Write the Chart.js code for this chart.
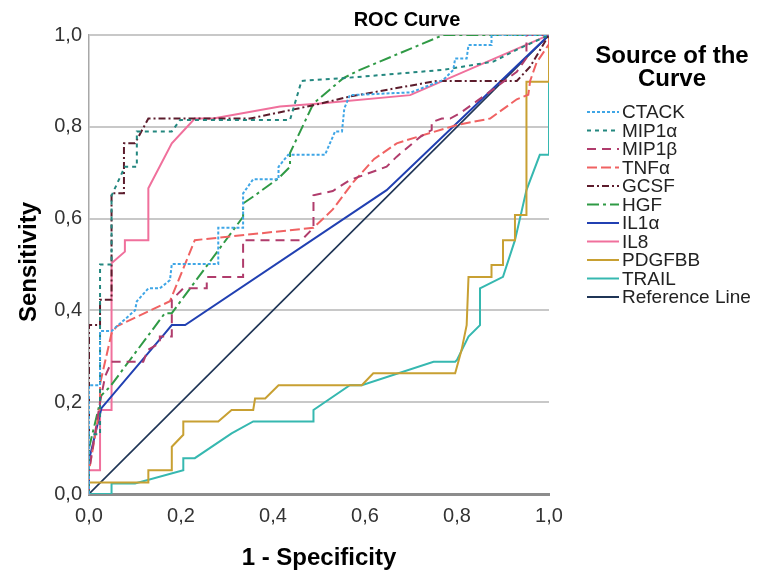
<!DOCTYPE html>
<html>
<head>
<meta charset="utf-8">
<script src="https://cdn.jsdelivr.net/npm/chart.js@4"></script>
<style>
html,body{margin:0;padding:0;background:#fff;}
#wrap{width:758px;height:572px;position:relative;}
</style>
</head>
<body>
<div id="wrap"><canvas id="c" width="758" height="572"></canvas></div>
<script>
// ---- data (1 - specificity, sensitivity) ----
const seriesNames = ["CTACK","MIP1α","MIP1β","TNFα","GCSF","HGF","IL1α","IL8","PDGFBB","TRAIL","Reference Line"];
const xTicks = [0,0.2,0.4,0.6,0.8,1.0];
const yTicks = [0,0.2,0.4,0.6,0.8,1.0];

const ctack = [[0,0],[0,0.237],[0.024,0.237],[0.024,0.355],[0.049,0.355],[0.1,0.40],[0.104,0.42],[0.129,0.448],[0.154,0.448],[0.176,0.466],[0.18,0.501],[0.281,0.501],[0.281,0.58],[0.335,0.58],[0.335,0.655],[0.357,0.686],[0.412,0.686],[0.412,0.713],[0.433,0.739],[0.513,0.739],[0.535,0.79],[0.55,0.79],[0.555,0.84],[0.567,0.869],[0.70,0.875],[0.77,0.902],[0.792,0.924],[0.796,0.949],[0.821,0.949],[0.825,0.978],[0.875,0.978],[0.875,1],[1,1]];
const mip1a = [[0,0],[0,0.13],[0.024,0.13],[0.024,0.5],[0.049,0.5],[0.049,0.65],[0.078,0.713],[0.104,0.713],[0.104,0.79],[0.18,0.79],[0.198,0.815],[0.437,0.815],[0.462,0.9],[0.553,0.906],[0.77,0.924],[0.879,0.942],[0.93,0.968],[1,1]];
const mip1b = [[0,0],[0,0.05],[0.024,0.2],[0.035,0.256],[0.049,0.288],[0.118,0.288],[0.128,0.314],[0.154,0.329],[0.154,0.343],[0.18,0.343],[0.18,0.423],[0.205,0.448],[0.256,0.448],[0.256,0.473],[0.335,0.473],[0.335,0.553],[0.462,0.553],[0.488,0.58],[0.488,0.651],[0.53,0.66],[0.567,0.684],[0.647,0.713],[0.669,0.735],[0.72,0.778],[0.745,0.793],[0.745,0.81],[0.767,0.818],[0.785,0.818],[0.807,0.83],[0.886,0.887],[0.93,0.92],[0.951,0.95],[0.951,1],[1,1]];
const tnfa = [[0,0],[0,0.05],[0.024,0.19],[0.024,0.24],[0.049,0.35],[0.06,0.365],[0.176,0.42],[0.23,0.553],[0.488,0.58],[0.53,0.62],[0.575,0.68],[0.62,0.73],[0.669,0.764],[0.72,0.78],[0.8,0.804],[0.872,0.818],[0.93,0.86],[0.955,0.87],[0.959,0.90],[0.973,0.94],[1,0.98],[1,1]];
const gcsf = [[0,0],[0,0.368],[0.024,0.368],[0.024,0.423],[0.049,0.423],[0.049,0.655],[0.076,0.655],[0.076,0.764],[0.1,0.764],[0.129,0.818],[0.35,0.818],[0.488,0.847],[0.567,0.866],[0.756,0.9],[0.93,0.9],[0.959,0.931],[1,1]];
const hgf = [[0,0],[0,0.1],[0.024,0.2],[0.024,0.212],[0.046,0.234],[0.089,0.292],[0.165,0.394],[0.18,0.394],[0.335,0.604],[0.335,0.633],[0.36,0.65],[0.412,0.688],[0.437,0.713],[0.437,0.743],[0.488,0.851],[0.553,0.906],[0.589,0.924],[0.77,1],[1,1]];
const il1a = [[0,0],[0,0.074],[0.027,0.187],[0.165,0.35],[0.18,0.368],[0.209,0.368],[0.647,0.662],[1,1]];
const il8 = [[0,0],[0,0.052],[0.024,0.052],[0.024,0.183],[0.049,0.183],[0.049,0.503],[0.078,0.528],[0.078,0.553],[0.129,0.553],[0.129,0.666],[0.18,0.764],[0.23,0.818],[0.27,0.818],[0.415,0.844],[0.502,0.851],[0.698,0.869],[1,1]];
const pdgfbb = [[0,0],[0,0.025],[0.129,0.025],[0.129,0.052],[0.18,0.052],[0.18,0.103],[0.205,0.129],[0.205,0.158],[0.281,0.158],[0.31,0.183],[0.357,0.183],[0.361,0.208],[0.383,0.208],[0.412,0.237],[0.593,0.237],[0.618,0.263],[0.796,0.263],[0.81,0.314],[0.821,0.368],[0.825,0.473],[0.875,0.473],[0.875,0.499],[0.9,0.499],[0.9,0.553],[0.926,0.553],[0.926,0.608],[0.951,0.608],[0.951,0.898],[1,0.898],[1,1]];
const trail = [[0,0],[0.049,0],[0.049,0.023],[0.1,0.023],[0.205,0.052],[0.205,0.078],[0.23,0.078],[0.31,0.132],[0.357,0.158],[0.488,0.158],[0.488,0.183],[0.567,0.237],[0.593,0.237],[0.749,0.288],[0.796,0.288],[0.8,0.292],[0.825,0.343],[0.85,0.368],[0.85,0.448],[0.9,0.473],[0.926,0.553],[0.951,0.662],[0.98,0.739],[1,0.739],[1,1]];
const refLine = [[0,0],[1,1]];

const seriesData = [ctack,mip1a,mip1b,tnfa,gcsf,hgf,il1a,il8,pdgfbb,trail,refLine];
const colors = ["#3fa6e6","#23877f","#b03c6c","#f06262","#5c1c2c","#2f9a45","#2140b2","#f0709c","#c8a032","#36b8b0","#1f3556"];
const dashes = [[3,2],[4,4],[9,6],[10,4],[7,3,2,3],[12,4,3,4],[],[],[],[],[]];
const widths = [2,2,2,2,2,2,2,2,2,2,1.6];

const FONT = "'Liberation Sans', Arial, sans-serif";
const fmt = v => v.toFixed(1).replace('.', ',');

const textPlugin = {
  id: 'texts',
  afterDraw(chart) {
    const ctx = chart.ctx;
    const ca = chart.chartArea;
    ctx.save();
    ctx.fillStyle = '#000';
    // title
    ctx.font = "bold 20px " + FONT;
    ctx.textAlign = 'center';
    ctx.textBaseline = 'alphabetic';
    ctx.fillText('ROC Curve', 407, 26);
    // x axis title
    ctx.font = "bold 24px " + FONT;
    ctx.fillText('1 - Specificity', (ca.left + ca.right) / 2, 565);
    // y axis title
    ctx.save();
    ctx.translate(29, 262);
    ctx.rotate(-Math.PI / 2);
    ctx.textBaseline = 'middle';
    ctx.fillText('Sensitivity', 0, 0);
    ctx.restore();
    // legend title
    ctx.font = "bold 24px " + FONT;
    ctx.textBaseline = 'alphabetic';
    ctx.fillText('Source of the', 672, 63);
    ctx.fillText('Curve', 672, 86);
    // legend items
    ctx.font = "19px " + FONT;
    ctx.textAlign = 'left';
    ctx.textBaseline = 'middle';
    chart.data.datasets.forEach((ds, i) => {
      const y = 112 + i * 18.5;
      ctx.save();
      ctx.strokeStyle = ds.borderColor;
      ctx.lineWidth = 2;
      ctx.setLineDash(ds.borderDash || []);
      ctx.beginPath();
      ctx.moveTo(587, y);
      ctx.lineTo(619, y);
      ctx.stroke();
      ctx.restore();
      ctx.fillStyle = '#222';
      ctx.fillText(ds.label, 622, y + 1);
    });
    ctx.restore();
  }
};

const datasets = seriesNames.map((name, i) => ({
  label: name,
  data: seriesData[i].map(p => ({x: p[0], y: p[1]})),
  borderColor: colors[i],
  backgroundColor: colors[i],
  borderWidth: widths[i],
  borderDash: dashes[i],
  showLine: true,
  pointRadius: 0,
  pointHoverRadius: 0,
  tension: 0,
  fill: false
}));

new Chart(document.getElementById('c'), {
  type: 'scatter',
  data: { datasets },
  options: {
    responsive: false,
    animation: false,
    events: [],
    layout: { padding: { left: 0, top: 35, right: 209, bottom: 0 } },
    plugins: { legend: { display: false }, title: { display: false }, tooltip: { enabled: false } },
    scales: {
      x: {
        type: 'linear', min: 0, max: 1,
        afterFit: s => { s.height = 78; },
        afterBuildTicks: s => { s.ticks = xTicks.map(v => ({value: v})); },
        ticks: { callback: v => fmt(v), font: { family: FONT, size: 20 }, color: '#333', padding: 10, maxRotation: 0 },
        grid: { display: true, color: 'rgba(0,0,0,0)', drawTicks: false },
        border: { display: true, color: '#8c8c8c', width: 3 }
      },
      y: {
        type: 'linear', min: 0, max: 1,
        afterFit: s => { s.width = 89; },
        afterBuildTicks: s => { s.ticks = yTicks.map(v => ({value: v})); },
        ticks: { callback: v => fmt(v), font: { family: FONT, size: 20 }, color: '#333', padding: 7 },
        grid: { color: '#c8c8c8', lineWidth: 2, drawTicks: false },
        border: { display: true, color: '#a8a8a8', width: 1.5 }
      }
    }
  },
  plugins: [textPlugin]
});
</script>
</body>
</html>
